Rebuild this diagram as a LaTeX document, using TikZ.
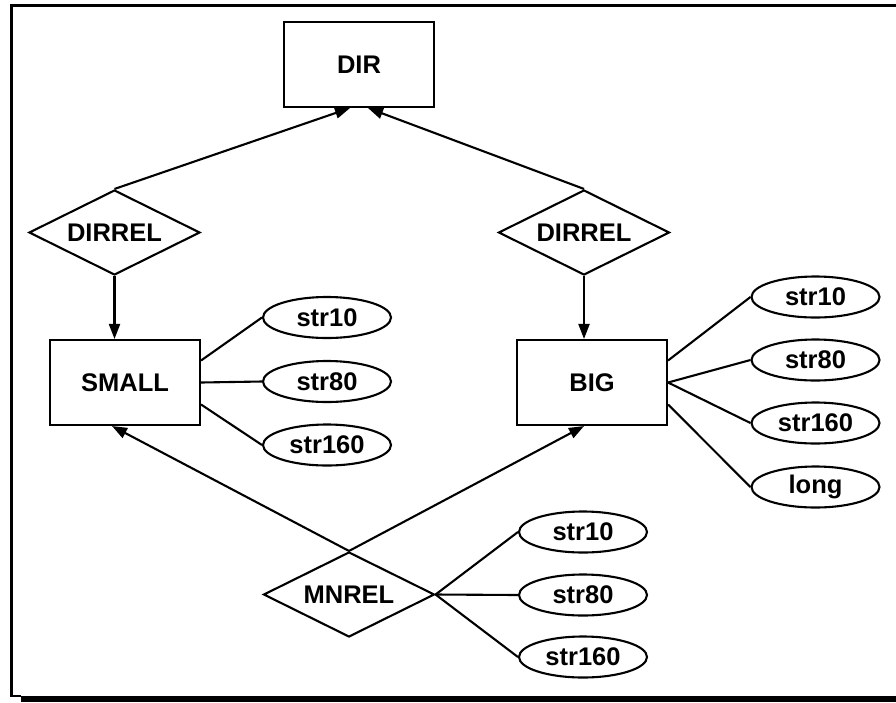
\documentclass[tikz,border=0pt]{standalone}
\usepackage{fontspec}
\setmainfont{Liberation Sans}
\usetikzlibrary{arrows.meta, shapes.geometric}

\begin{document}
\begin{tikzpicture}[x=1pt, y=-1pt, line width=2.1pt,
  font=\fontsize{25.5}{30}\selectfont\bfseries,
  entity/.style={draw, rectangle, minimum width=150pt, minimum height=85pt, inner sep=0pt},
  relship/.style={draw, diamond, aspect=2, minimum width=171pt, minimum height=85pt, inner sep=0pt},
  attr/.style={draw, ellipse, minimum width=128pt, minimum height=41pt, inner sep=0pt},
  isa/.style={-{Triangle[length=15pt, width=11pt]}}]
  \useasboundingbox (0,0) rectangle (896,702);
  % frame with shadow, cut at the right
  \draw[line width=2.4pt] (896,5.5) -- (11.5,5.5) -- (11.5,696) -- (21,696);
  \fill (21,695.5) rectangle (896,702);

  \node[entity] (dir) at (359,64.5) {DIR};
  \node[relship] (relsmall) at (114.5,232.5) {DIRREL};
  \node[relship] (relbig) at (584,232.5) {DIRREL};
  \node[entity] (small) at (125,382.5) {SMALL};
  \node[entity] (big) at (592,382.5) {BIG};
  \node[relship] (mnrel) at (349,594.5) {MNREL};

  % attributes
  \node[attr] (s10) at (327,317.5) {str10};
  \node[attr] (s80) at (327,381.5) {str80};
  \node[attr] (s160) at (327,445) {str160};
  \node[attr] (b10) at (815.5,297) {str10};
  \node[attr] (b80) at (815.5,360) {str80};
  \node[attr] (b160) at (815.5,423) {str160};
  \node[attr] (blong) at (815.5,487) {long};
  \node[attr] (m10) at (583,532) {str10};
  \node[attr] (m80) at (583,595) {str80};
  \node[attr] (m160) at (583,657) {str160};

  \draw[isa] (relsmall.north) -- ([xshift=-9pt]dir.south);
  \draw[isa] (relbig.north) -- ([xshift=9pt]dir.south);
  \draw[isa] (relsmall.south) -- (relsmall.south |- small.north);
  \draw[isa] (relbig.south) -- (relbig.south |- big.north);
  \draw[isa] (mnrel.north) -- ([xshift=-13pt]small.south);
  \draw[isa] (mnrel.north) -- ([xshift=-8pt]big.south);

  \draw ([yshift=22pt]small.east) -- (s10.west);
  \draw (small.east) -- (s80.west);
  \draw ([yshift=-22pt]small.east) -- (s160.west);
  \draw ([yshift=22pt]big.east) -- (b10.west);
  \draw (big.east) -- (b80.west);
  \draw (big.east) -- (b160.west);
  \draw ([yshift=-22pt]big.east) -- (blong.west);
  \draw (mnrel.east) -- (m10.west);
  \draw (mnrel.east) -- (m80.west);
  \draw (mnrel.east) -- (m160.west);
\end{tikzpicture}
\end{document}
